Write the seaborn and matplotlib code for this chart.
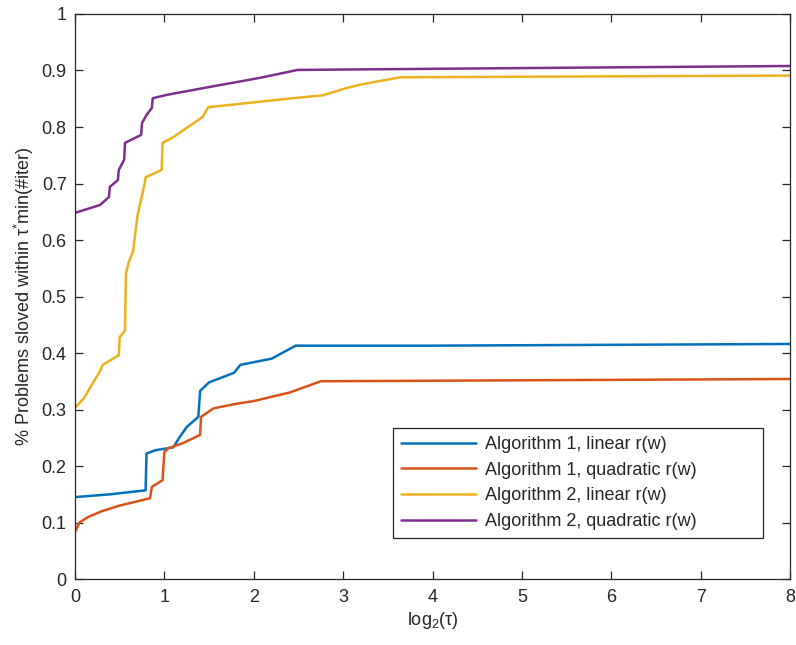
import matplotlib
matplotlib.use("Agg")
import matplotlib.pyplot as plt
import seaborn as sns
import pandas as pd

# Performance-profile curves (log2 tau vs. fraction of problems solved)
alg1_lin_x = [0, 0.4, 0.79, 0.8, 0.9, 1.1, 1.17, 1.25, 1.38, 1.4, 1.5, 1.78, 1.85, 2.2, 2.47, 4, 8]
alg1_lin_y = [0.145, 0.150, 0.157, 0.222, 0.228, 0.233, 0.251, 0.269, 0.287, 0.333, 0.348, 0.365, 0.379, 0.39, 0.413, 0.413, 0.416]

alg1_quad_x = [0, 0.05, 0.15, 0.3, 0.5, 0.84, 0.86, 0.98, 1.0, 1.05, 1.2, 1.4, 1.41, 1.55, 1.8, 2.0, 2.4, 2.75, 8]
alg1_quad_y = [0.083, 0.1, 0.11, 0.12, 0.13, 0.143, 0.163, 0.175, 0.225, 0.232, 0.24, 0.255, 0.287, 0.302, 0.31, 0.315, 0.33, 0.35, 0.354]

alg2_lin_x = [0, 0.1, 0.2, 0.27, 0.31, 0.49, 0.5, 0.56, 0.57, 0.6, 0.65, 0.7, 0.78, 0.79, 0.97, 0.98,
              1.1, 1.43, 1.49, 2.44, 2.77, 3.04, 3.19, 3.64, 8]
alg2_lin_y = [0.303, 0.32, 0.347, 0.365, 0.379, 0.396, 0.428, 0.44, 0.54, 0.56, 0.58, 0.644, 0.70, 0.711, 0.724, 0.772,
              0.782, 0.818, 0.835, 0.851, 0.856, 0.869, 0.875, 0.888, 0.891]

alg2_quad_x = [0, 0.28, 0.38, 0.39, 0.48, 0.49, 0.55, 0.56, 0.74, 0.75, 0.8, 0.86, 0.87, 1.03, 1.51, 2.07, 2.49, 4, 8]
alg2_quad_y = [0.648, 0.662, 0.676, 0.694, 0.706, 0.724, 0.742, 0.772, 0.786, 0.807, 0.821, 0.834, 0.851, 0.857,
               0.871, 0.887, 0.901, 0.903, 0.908]

series_names = ["Algorithm 1, linear r(w)", "Algorithm 1, quadratic r(w)",
                "Algorithm 2, linear r(w)", "Algorithm 2, quadratic r(w)"]
series_x = [alg1_lin_x, alg1_quad_x, alg2_lin_x, alg2_quad_x]
series_y = [alg1_lin_y, alg1_quad_y, alg2_lin_y, alg2_quad_y]
colors = ["#0072BD", "#D95319", "#EDB120", "#7E2F8E"]

x_ticks = [0, 1, 2, 3, 4, 5, 6, 7, 8]
y_ticks = [0, 0.1, 0.2, 0.3, 0.4, 0.5, 0.6, 0.7, 0.8, 0.9, 1]
y_tick_labels = ["0", "0.1", "0.2", "0.3", "0.4", "0.5", "0.6", "0.7", "0.8", "0.9", "1"]

rows = []
for name, xs, ys in zip(series_names, series_x, series_y):
    for i, (xv, yv) in enumerate(zip(xs, ys)):
        rows.append({"tau": xv, "frac": yv, "series": name, "order": i})
df = pd.DataFrame(rows)

sns.set_theme(style="ticks")
plt.rcParams["font.family"] = ["Liberation Sans", "DejaVu Sans"]
plt.rcParams["mathtext.fontset"] = "custom"
plt.rcParams["mathtext.rm"] = "Liberation Sans"
plt.rcParams["mathtext.it"] = "Liberation Sans"
plt.rcParams["mathtext.default"] = "regular"

FS = 13
INK = "#262626"

fig = plt.figure(figsize=(7.96, 6.45), dpi=100)
ax = fig.add_axes([0.0942, 0.1023, 0.8983, 0.876])

sns.lineplot(data=df, x="tau", y="frac", hue="series", hue_order=series_names,
             palette=colors, estimator=None, sort=False, units="series",
             linewidth=1.8, ax=ax)

ax.set_xlim(0, 8)
ax.set_ylim(0, 1)
ax.set_xticks(x_ticks)
ax.set_xticklabels([str(t) for t in x_ticks])
ax.set_yticks(y_ticks)
ax.set_yticklabels(y_tick_labels)

for side in ["top", "right", "bottom", "left"]:
    ax.spines[side].set_visible(True)
    ax.spines[side].set_color(INK)
    ax.spines[side].set_linewidth(0.9)
ax.tick_params(direction="in", top=True, right=True, length=6, width=0.9,
               color=INK, labelsize=FS, labelcolor=INK)
ax.tick_params(axis="y", pad=6)
ax.tick_params(axis="x", pad=7)

ax.set_xlabel("log$_2$(τ)", fontsize=FS, color=INK, labelpad=3)
ax.set_ylabel("% Problems sloved within τ$^{*}$min(#iter)", fontsize=FS, color=INK, labelpad=4)

# Wide legend box anchored in the lower right part of the axes
leg = ax.legend(loc="lower left", bbox_to_anchor=(0.445, 0.0726, 0.517, 0.19), mode="expand",
                fontsize=FS, frameon=True, fancybox=False, edgecolor=INK, framealpha=1,
                handlelength=4.15, handletextpad=0.5, borderpad=0.44, labelspacing=0.48,
                borderaxespad=0)
leg.get_frame().set_linewidth(0.9)
leg.set_title(None)
for line in leg.get_lines():
    line.set_linewidth(1.8)

fig.savefig("out.png", dpi=100)
